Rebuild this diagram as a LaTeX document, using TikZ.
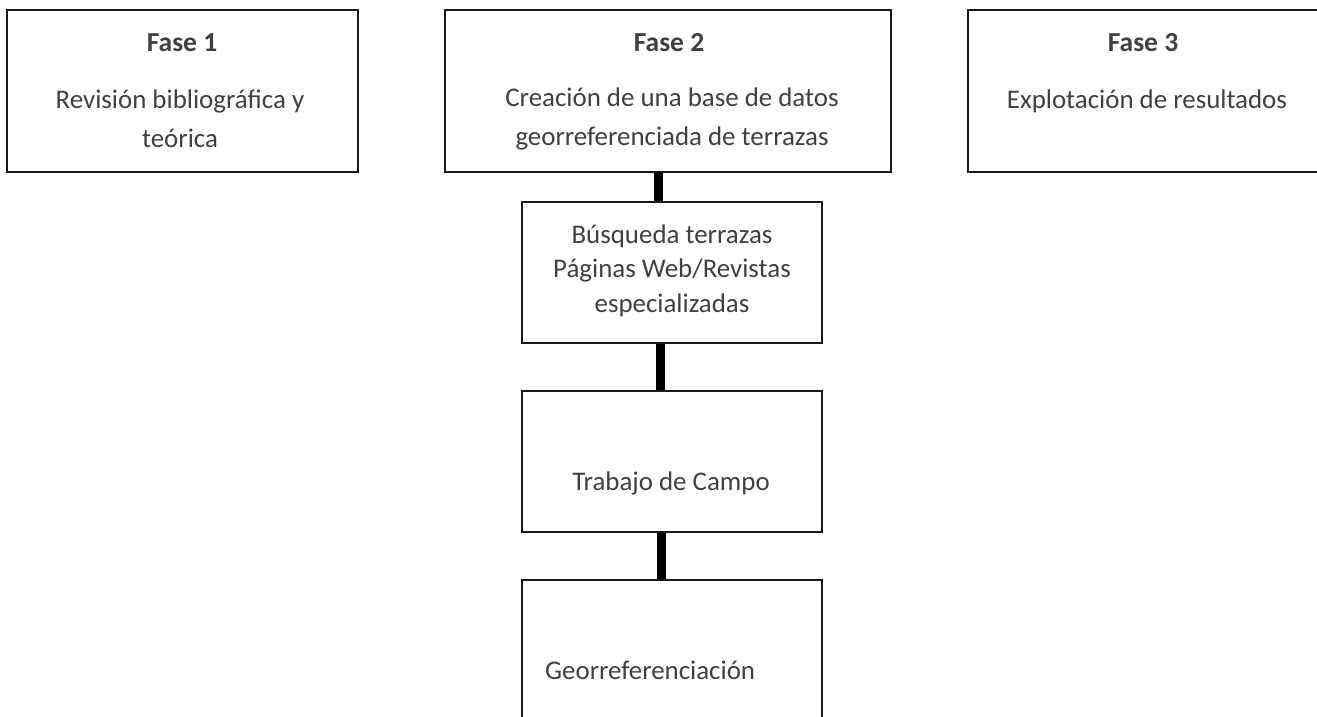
\documentclass[tikz,border=0pt]{standalone}
\usepackage{fontspec}
\setmainfont{Carlito}
\definecolor{txt}{HTML}{404040}
\begin{document}
\begin{tikzpicture}[x=1pt,y=-1pt,
  box/.style={draw=black!90,line width=1.4pt,fill=white,inner sep=0pt},
  ttl/.style={text=txt,font=\fontsize{27.5}{32}\selectfont\bfseries,anchor=base,inner sep=0pt},
  bdy/.style={text=txt,font=\fontsize{26.9}{32}\selectfont,anchor=base,inner sep=0pt},
  conn/.style={line width=9pt,black}]
\useasboundingbox (0,0) rectangle (1317,716);
\clip (0,0) rectangle (1317,716);
% boxes
\node[box,minimum width=351pt,minimum height=162pt] (b1) at (182.5,91) {};
\node[box,minimum width=446pt,minimum height=162pt] (b2) at (668,91) {};
\node[box,minimum width=354pt,minimum height=162pt] (b3) at (1145,91) {};
\node[box,minimum width=300pt,minimum height=141pt] (bus) at (672,272.5) {};
\node[box,minimum width=300pt,minimum height=141pt] (tra) at (672,461.5) {};
\node[box,minimum width=300pt,minimum height=160pt] (geo) at (672,660) {};
% texts
\node[ttl] (t1) at (182,51) {Fase 1};
\node[bdy] (r1) at (180,108) {Revisión bibliográfica y};
\node[bdy] (r2) at (180,147) {teórica};
\node[ttl] (t2) at (669,51) {Fase 2};
\node[bdy] (c1) at (672,106) {Creación de una base de datos};
\node[bdy] (c2) at (672,145) {georreferenciada de terrazas};
\node[ttl] (t3) at (1143,51) {Fase 3};
\node[bdy] (e1) at (1147,108) {Explotación de resultados};
\node[bdy] (s1) at (672,243) {Búsqueda terrazas};
\node[bdy] (s2) at (672,277) {Páginas Web/Revistas};
\node[bdy] (s3) at (672,312) {especializadas};
\node[bdy] (tc) at (671,490) {Trabajo de Campo};
\node[bdy,anchor=base west] (gr) at (545,679) {Georreferenciación};
% connectors
\coordinate (x1) at (658,0);
\coordinate (x2) at (660,0);
\coordinate (x3) at (661,0);
\draw[conn] (x1 |- b2.south) -- (x1 |- bus.north);
\draw[conn] (x2 |- bus.south) -- (x2 |- tra.north);
\draw[conn] (x3 |- tra.south) -- (x3 |- geo.north);
\end{tikzpicture}
\end{document}
